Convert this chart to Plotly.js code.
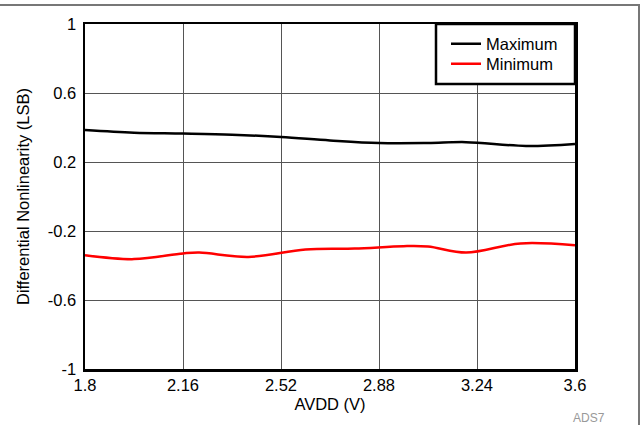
<!DOCTYPE html>
<html>
<head>
<meta charset="utf-8">
<script src="https://cdn.plot.ly/plotly-3.0.1.min.js"></script>
<style>
html,body{margin:0;padding:0;background:#fff;}
#wrap{position:relative;width:643px;height:425px;}
#chart{width:643px;height:425px;}
#frame{position:absolute;left:0;top:4px;width:638px;height:421px;border-top:2px solid #777;border-right:2px solid #777;pointer-events:none;}
</style>
</head>
<body>
<div id="wrap"><div id="chart"></div><div id="frame"></div></div>
<script>
const maxX = [1.8, 1.98, 2.16, 2.34, 2.52, 2.7, 2.88, 3.06, 3.2, 3.42, 3.6];
const maxY = [0.385, 0.370, 0.365, 0.358, 0.345, 0.325, 0.31, 0.31, 0.315, 0.293, 0.305];
const minX = [1.8, 1.98, 2.16, 2.22, 2.4, 2.61, 2.79, 2.97, 3.06, 3.2, 3.4, 3.6];
const minY = [-0.34, -0.363, -0.33, -0.325, -0.35, -0.307, -0.302, -0.288, -0.29, -0.325, -0.272, -0.283];
const xTicks = [1.8, 2.16, 2.52, 2.88, 3.24, 3.6];
const xTickText = ["1.8", "2.16", "2.52", "2.88", "3.24", "3.6"];
const yTicks = [-1, -0.6, -0.2, 0.2, 0.6, 1];
const yTickText = ["-1", "-0.6", "-0.2", "0.2", "0.6", "1"];

const fam = "Liberation Sans, Arial, Helvetica, sans-serif";
const FS = 16.5;
const font = {family: fam, size: FS, color: "#000"};

const traces = [
  {x: maxX, y: maxY, mode: "lines", name: "Maximum", legend: "legend", line: {color: "#000", width: 2.5, shape: "spline", smoothing: 1}},
  {x: minX, y: minY, mode: "lines", name: "Minimum", legend: "legend2", line: {color: "#ff0000", width: 2.5, shape: "spline", smoothing: 1}}
];

const L = 85, R = 575, T = 24, B = 369;
const px = v => (v - L) / (R - L);
const py = v => (B - v) / (B - T);

const legendBase = {xanchor: "left", yanchor: "middle", bgcolor: "rgba(0,0,0,0)", borderwidth: 0,
                    font: {family: fam, size: FS, color: "#000"}, itemwidth: 30};

const layout = {
  width: 643, height: 425,
  margin: {l: L, r: 643 - R, t: T, b: 425 - B},
  paper_bgcolor: "#fff", plot_bgcolor: "#fff",
  font: font,
  showlegend: true,
  legend: Object.assign({x: px(446), y: py(44)}, legendBase),
  legend2: Object.assign({x: px(446), y: py(64)}, legendBase),
  xaxis: {range: [1.8, 3.6], tickvals: xTicks, ticktext: xTickText, showgrid: true, gridcolor: "#555", gridwidth: 1,
          zeroline: false, showline: true, linecolor: "#000", linewidth: 2.5, mirror: true, ticks: "", ticklabelstandoff: 0,
          title: {text: "AVDD (V)", font: {family: fam, size: FS, color: "#000"}, standoff: 5}, tickfont: font},
  yaxis: {range: [-1, 1], tickvals: yTicks, ticktext: yTickText, showgrid: true, gridcolor: "#555", gridwidth: 1,
          zeroline: false, showline: true, linecolor: "#000", linewidth: 2.5, mirror: true, ticks: "", ticklabelstandoff: 3,
          title: {text: "Differential Nonlinearity (LSB)", font: {family: fam, size: FS, color: "#000"}, standoff: 14}, tickfont: font},
  shapes: [{type: "rect", xref: "paper", yref: "paper", x0: px(436), x1: 1, y0: py(84), y1: 1,
            fillcolor: "#fff", line: {color: "#000", width: 2.5}, layer: "above"}],
  annotations: [{xref: "paper", yref: "paper", x: px(607), y: py(418), xanchor: "right", yanchor: "middle", showarrow: false,
                 text: "ADS7", font: {family: fam, size: 12, color: "#999"}}]
};

Plotly.newPlot("chart", traces, layout, {displayModeBar: false, staticPlot: true});
</script>
</body>
</html>
